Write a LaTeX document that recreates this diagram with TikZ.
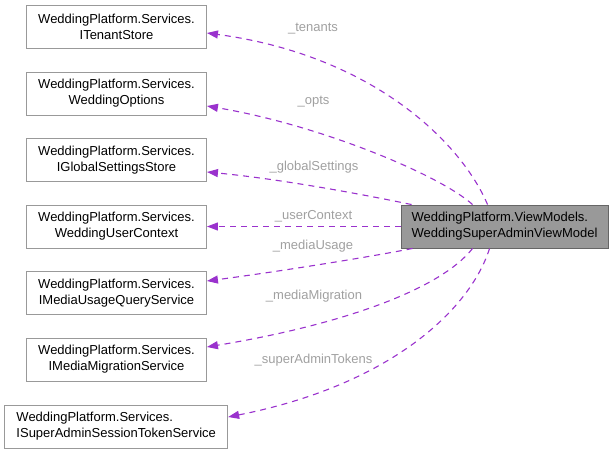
\documentclass[tikz,border=0pt]{standalone}
\usepackage{fontspec}
\setmainfont{Liberation Sans}
\usetikzlibrary{arrows.meta,calc}
\definecolor{edgec}{HTML}{9A32CD}
\definecolor{boxline}{HTML}{999999}
\definecolor{mainline}{HTML}{666666}
\definecolor{mainfill}{HTML}{999999}
\definecolor{lblc}{HTML}{A0A0A0}
\begin{document}
\begin{tikzpicture}[x=1pt,y=-1pt,
  cls/.style={draw=boxline, fill=white, line width=0.9pt, minimum height=43pt,
    minimum width=180pt, inner sep=0pt, align=center, font=\fontsize{13}{16}\selectfont},
  mainbox/.style={cls, draw=mainline, fill=mainfill, minimum width=207pt, align=left},
  rel/.style={draw=edgec, line width=1.1pt, dash pattern=on 6pt off 5pt,
    -{Triangle[length=11pt,width=8pt]}},
  lbl/.style={text=lblc, inner sep=0pt, font=\fontsize{13}{16}\selectfont}]
\useasboundingbox (0,0) rectangle (613,453);

\node[cls] (n1) at (116.5,26.5) {WeddingPlatform.Services.\\ITenantStore};
\node[cls] (n2) at (116.5,93.5) {WeddingPlatform.Services.\\WeddingOptions};
\node[cls] (n3) at (116.5,160) {WeddingPlatform.Services.\\IGlobalSettingsStore};
\node[cls] (n4) at (116.5,226.5) {WeddingPlatform.Services.\\WeddingUserContext};
\node[cls] (n5) at (116.5,293) {WeddingPlatform.Services.\\IMediaUsageQueryService};
\node[cls] (n6) at (116.5,359.5) {WeddingPlatform.Services.\\IMediaMigrationService};
\node[cls, minimum width=223pt, align=left] (n7) at (116.2,426.5) {WeddingPlatform.Services.\\ISuperAdminSessionTokenService};
\node[mainbox] (main) at (504.5,226.5) {WeddingPlatform.ViewModels.\\WeddingSuperAdminViewModel};

\draw[rel] ($(main.north west)+(87,0)$) .. controls (460,140) and (370,55) .. ($(n1.east)+(0,6.5)$);
\draw[rel] ($(main.north west)+(72,0)$) .. controls (440,175) and (320,125) .. ($(n2.east)+(0,12.5)$);
\draw[rel] ($(main.north west)+(11,0)$) .. controls (380,198) and (290,180) .. ($(n3.east)+(0,12)$);
\draw[rel] (main.west) -- (n4.east);
\draw[rel] ($(main.south west)+(12,0)$) .. controls (380,255) and (290,270) .. ($(n5.east)+(0,-12)$);
\draw[rel] ($(main.south west)+(72,0)$) .. controls (440,290) and (340,325) .. ($(n6.east)+(0,-12.5)$);
\draw[rel] ($(main.south west)+(89,0)$) .. controls (470,310) and (390,385) .. ($(n7.east)+(0,-9.5)$);

\node[lbl] (l1) at (313,29) {\_tenants};
\node[lbl] (l2) at (313.5,102) {\_opts};
\node[lbl] (l3) at (314,167) {\_globalSettings};
\node[lbl] (l4) at (313.5,216) {\_userContext};
\node[lbl] (l5) at (313,246) {\_mediaUsage};
\node[lbl] (l6) at (314,296) {\_mediaMigration};
\node[lbl] (l7) at (313.5,360) {\_superAdminTokens};
\end{tikzpicture}
\end{document}
